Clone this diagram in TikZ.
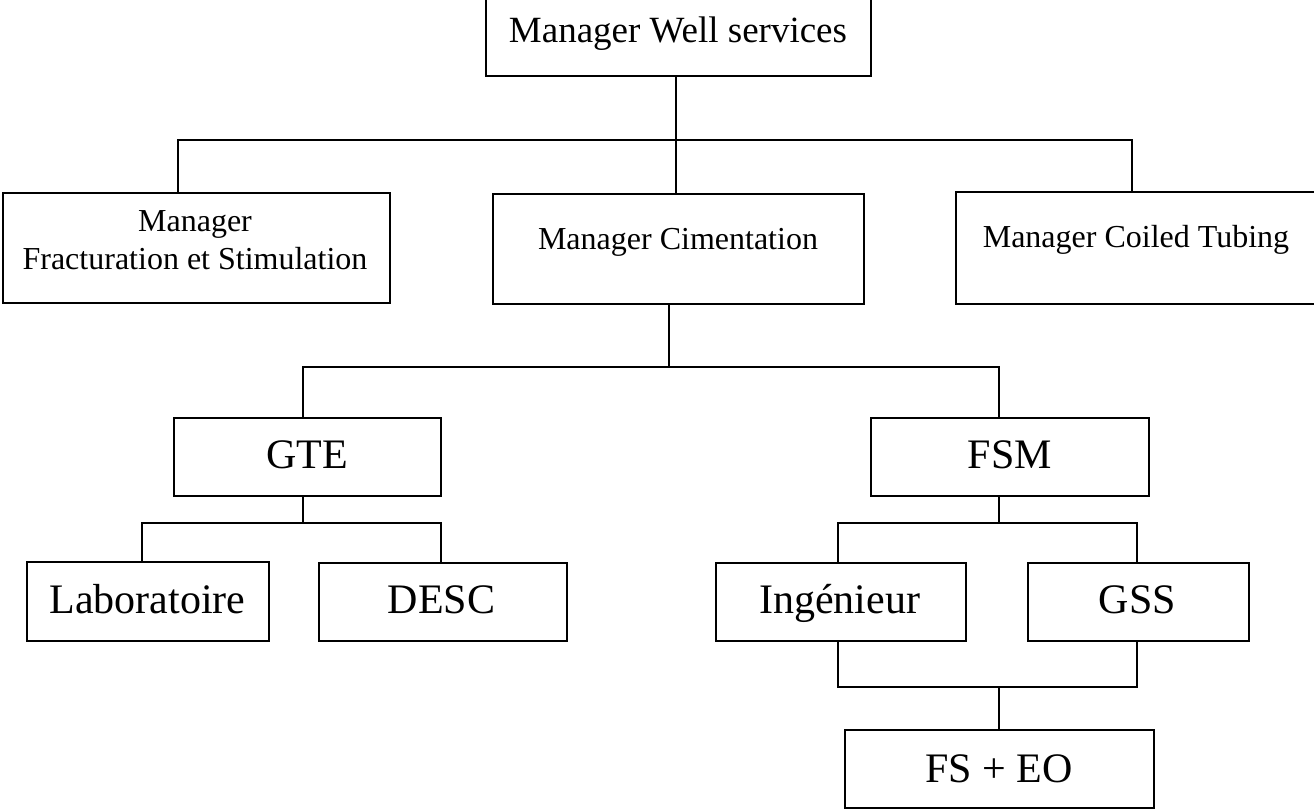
\documentclass[tikz,border=0pt]{standalone}
\usepackage{fontspec}
\setmainfont{Liberation Serif}
\begin{document}
\begin{tikzpicture}[x=1pt,y=-1pt,
  box/.style={draw, line width=1.7pt, inner sep=0pt, rectangle},
  conn/.style={line width=1.5pt},
  lbl/.style={anchor=base, inner sep=0pt},
  fbig/.style={font=\fontsize{42}{50}\selectfont},
  fmid/.style={font=\fontsize{32}{38}\selectfont},
  ftop/.style={font=\fontsize{37}{44}\selectfont}]
\useasboundingbox (0,0) rectangle (1314,810);
\clip (0,0) rectangle (1314,810);
% boxes
\node[box, minimum width=385pt, minimum height=86pt] (mws) at (678.5,33) {};
\node[box, minimum width=387pt, minimum height=110pt] (mfs) at (196.5,248) {};
\node[box, minimum width=371pt, minimum height=110pt] (mcim) at (678.5,249) {};
\node[box, minimum width=374pt, minimum height=112pt] (mct) at (1143,248) {};
\node[box, minimum width=267pt, minimum height=78pt] (gte) at (307.5,457) {};
\node[box, minimum width=278pt, minimum height=78pt] (fsm) at (1010,457) {};
\node[box, minimum width=242pt, minimum height=79pt] (lab) at (148,601.5) {};
\node[box, minimum width=248pt, minimum height=78pt] (desc) at (443,602) {};
\node[box, minimum width=250pt, minimum height=78pt] (ing) at (841,602) {};
\node[box, minimum width=221pt, minimum height=78pt] (gss) at (1138.5,602) {};
\node[box, minimum width=309pt, minimum height=78pt] (fseo) at (999.5,769) {};
% texts
\node[lbl, ftop] (tmws) at (678,43) {Manager Well services};
\node[lbl, fmid] (tmfs1) at (195,232) {Manager};
\node[lbl, fmid] (tmfs2) at (195,270) {Fracturation et Stimulation};
\node[lbl, fmid] (tmcim) at (678,250) {Manager Cimentation};
\node[lbl, fmid] (tmct) at (1136,248) {Manager Coiled Tubing};
\node[lbl, fbig] (tgte) at (307,468) {GTE};
\node[lbl, fbig] (tfsm) at (1010,468) {FSM};
\node[lbl, fbig] (tlab) at (147.5,613) {Laboratoire};
\node[lbl, fbig] (tdesc) at (441.5,613) {DESC};
\node[lbl, fbig] (ting) at (839.5,613) {Ingénieur};
\node[lbl, fbig] (tgss) at (1137.5,613) {GSS};
\node[lbl, fbig] (tfseo) at (999,782) {FS + EO};
% junction coordinates
\coordinate (j1) at (676,140);
\coordinate (j2) at (669,367);
\coordinate (j3) at (303,523);
\coordinate (j4) at (999,523);
\coordinate (j5) at (999,687);
% connectors
\draw[conn] (mws.south -| j1) -- (j1);
\draw[conn] (mfs.north -| 178,0) |- (j1) -| (mct.north -| 1132,0);
\draw[conn] (j1) -- (mcim.north -| j1);
\draw[conn] (mcim.south -| j2) -- (j2);
\draw[conn] (gte.north -| 303,0) |- (j2) -| (fsm.north -| 999,0);
\draw[conn] (gte.south -| j3) -- (j3);
\draw[conn] (lab.north -| 142,0) |- (j3) -| (desc.north -| 441,0);
\draw[conn] (fsm.south -| j4) -- (j4);
\draw[conn] (ing.north -| 838,0) |- (j4) -| (gss.north -| 1137,0);
\draw[conn] (ing.south -| 838,0) |- (j5) -| (gss.south -| 1137,0);
\draw[conn] (j5) -- (fseo.north -| j5);
\end{tikzpicture}
\end{document}
